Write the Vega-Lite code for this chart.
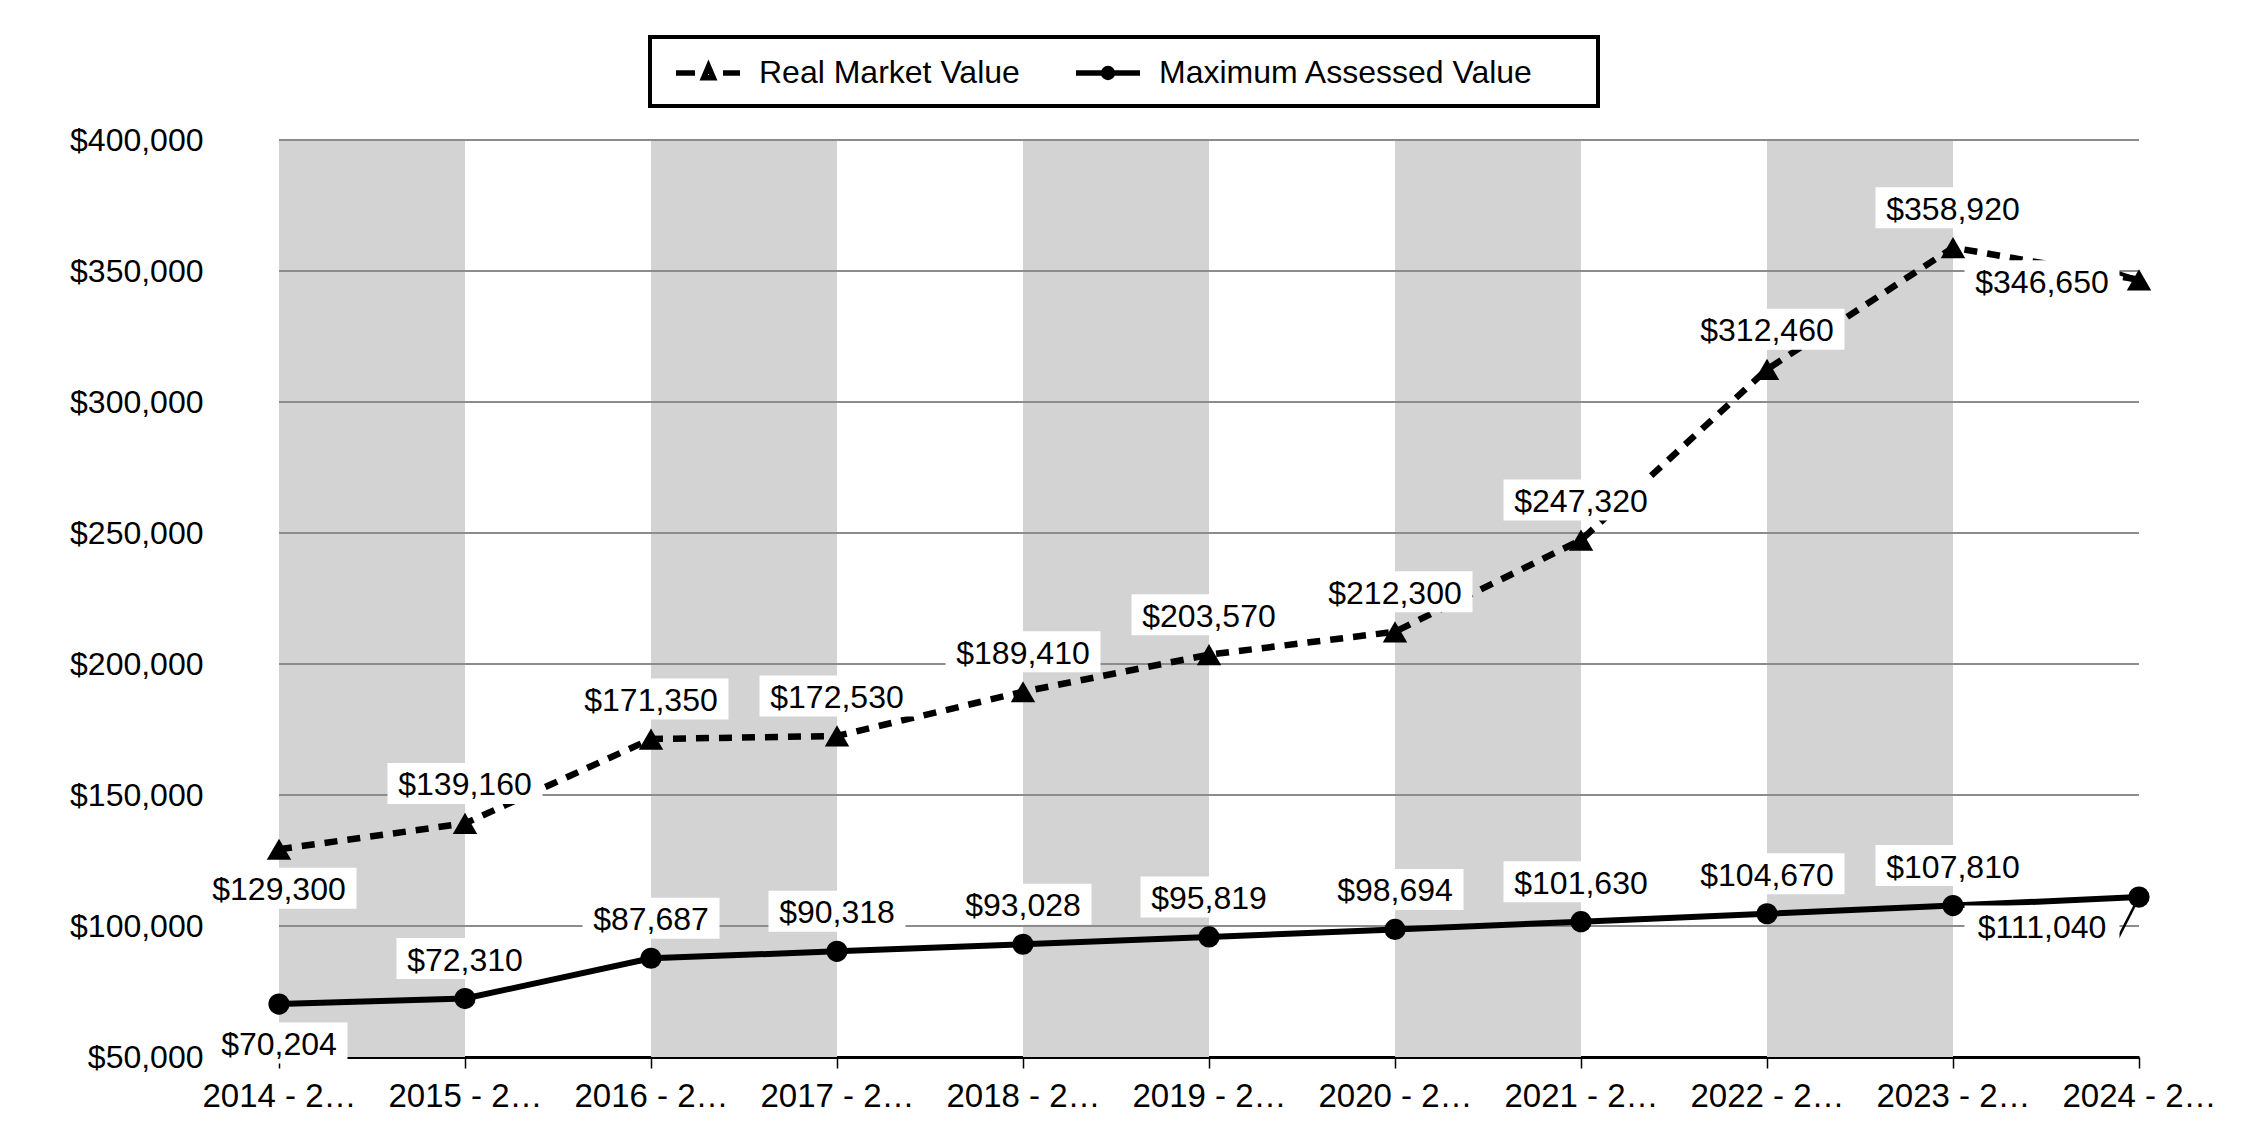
{
  "$schema": "https://vega.github.io/schema/vega-lite/v6.json",
  "width": 1860,
  "height": 917,
  "autosize": {"type": "none"},
  "padding": {"left": 279, "top": 140, "right": 111, "bottom": 83},
  "background": "white",
  "datasets": {
    "values": [
      {"period": "2014 - 2015", "series": "Real Market Value", "value": 129300},
      {"period": "2015 - 2016", "series": "Real Market Value", "value": 139160},
      {"period": "2016 - 2017", "series": "Real Market Value", "value": 171350},
      {"period": "2017 - 2018", "series": "Real Market Value", "value": 172530},
      {"period": "2018 - 2019", "series": "Real Market Value", "value": 189410},
      {"period": "2019 - 2020", "series": "Real Market Value", "value": 203570},
      {"period": "2020 - 2021", "series": "Real Market Value", "value": 212300},
      {"period": "2021 - 2022", "series": "Real Market Value", "value": 247320},
      {"period": "2022 - 2023", "series": "Real Market Value", "value": 312460},
      {"period": "2023 - 2024", "series": "Real Market Value", "value": 358920},
      {"period": "2024 - 2025", "series": "Real Market Value", "value": 346650},
      {"period": "2014 - 2015", "series": "Maximum Assessed Value", "value": 70204},
      {"period": "2015 - 2016", "series": "Maximum Assessed Value", "value": 72310},
      {"period": "2016 - 2017", "series": "Maximum Assessed Value", "value": 87687},
      {"period": "2017 - 2018", "series": "Maximum Assessed Value", "value": 90318},
      {"period": "2018 - 2019", "series": "Maximum Assessed Value", "value": 93028},
      {"period": "2019 - 2020", "series": "Maximum Assessed Value", "value": 95819},
      {"period": "2020 - 2021", "series": "Maximum Assessed Value", "value": 98694},
      {"period": "2021 - 2022", "series": "Maximum Assessed Value", "value": 101630},
      {"period": "2022 - 2023", "series": "Maximum Assessed Value", "value": 104670},
      {"period": "2023 - 2024", "series": "Maximum Assessed Value", "value": 107810},
      {"period": "2024 - 2025", "series": "Maximum Assessed Value", "value": 111040}
    ],
    "bands": [
      {"start": "2014 - 2015", "end": "2015 - 2016"},
      {"start": "2016 - 2017", "end": "2017 - 2018"},
      {"start": "2018 - 2019", "end": "2019 - 2020"},
      {"start": "2020 - 2021", "end": "2021 - 2022"},
      {"start": "2022 - 2023", "end": "2023 - 2024"}
    ],
    "grid": [
      {"v": 100000}, {"v": 150000}, {"v": 200000}, {"v": 250000},
      {"v": 300000}, {"v": 350000}, {"v": 400000}
    ]
  },
  "layer": [
    {
      "data": {"name": "bands"},
      "mark": {"type": "rect", "color": "#d3d3d3"},
      "encoding": {
        "x": {
          "field": "start", "type": "nominal", "title": null,
          "scale": {"type": "point", "padding": 0, "domain": ["2014 - 2015", "2015 - 2016", "2016 - 2017", "2017 - 2018", "2018 - 2019", "2019 - 2020", "2020 - 2021", "2021 - 2022", "2022 - 2023", "2023 - 2024", "2024 - 2025"]}
        },
        "x2": {"field": "end"}
      }
    },
    {
      "data": {"name": "grid"},
      "mark": {"type": "rule", "color": "#8c8c8c", "strokeWidth": 2},
      "encoding": {
        "y": {
          "field": "v", "type": "quantitative", "title": null,
          "scale": {"domain": [50000, 400000], "nice": false},
          "axis": {"values": [50000, 100000, 150000, 200000, 250000, 300000, 350000, 400000], "format": "$,.0f"}
        }
      }
    },
    {
      "data": {"name": "values"},
      "encoding": {
        "x": {
          "field": "period", "type": "nominal", "title": null,
          "scale": {"type": "point", "padding": 0, "domain": ["2014 - 2015", "2015 - 2016", "2016 - 2017", "2017 - 2018", "2018 - 2019", "2019 - 2020", "2020 - 2021", "2021 - 2022", "2022 - 2023", "2023 - 2024", "2024 - 2025"]}
        },
        "y": {
          "field": "value", "type": "quantitative", "title": null,
          "scale": {"domain": [50000, 400000], "nice": false},
          "axis": {"values": [50000, 100000, 150000, 200000, 250000, 300000, 350000, 400000], "format": "$,.0f"}
        }
      },
      "layer": [
        {
          "transform": [{"filter": "datum.series == 'Real Market Value'"}],
          "mark": {"type": "line", "color": "black", "strokeWidth": 6.5, "strokeDash": [13, 10]}
        },
        {
          "transform": [{"filter": "datum.series == 'Maximum Assessed Value'"}],
          "mark": {"type": "line", "color": "black", "strokeWidth": 6}
        },
        {
          "transform": [{"filter": "datum.period == '2024 - 2025' && datum.series == 'Real Market Value'"}],
          "mark": {"type": "rule", "color": "black", "strokeWidth": 4, "xOffset": -21, "yOffset": -7, "x2Offset": 0, "y2Offset": 0},
          "encoding": {"x2": {"field": "period"}, "y2": {"field": "value"}}
        },
        {
          "transform": [{"filter": "datum.period == '2024 - 2025' && datum.series == 'Maximum Assessed Value'"}],
          "mark": {"type": "rule", "color": "black", "strokeWidth": 2.5, "xOffset": -22, "yOffset": 43, "x2Offset": 0, "y2Offset": 0},
          "encoding": {"x2": {"field": "period"}, "y2": {"field": "value"}}
        },
        {
          "mark": {"type": "point", "filled": true, "opacity": 1, "color": "black", "strokeWidth": 0},
          "encoding": {
            "shape": {"condition": {"test": "datum.series == 'Real Market Value'", "value": "triangle-up"}, "value": "circle"},
            "size": {"condition": {"test": "datum.series == 'Real Market Value'", "value": 600}, "value": 450}
          }
        },
        {
          "mark": {"type": "point", "filled": false, "opacity": 0, "color": "black"},
          "encoding": {
            "shape": {
              "field": "series", "type": "nominal",
              "scale": {
                "domain": ["Real Market Value", "Maximum Assessed Value"],
                "range": [
                  "M-0.625,0H0.5625M2.3125,0H3.375M1.406,-0.4L1.706,0.3L1.106,0.3Z",
                  "M-0.625,0H3.375M1.655,0A0.28,0.28,0,1,1,1.095,0A0.28,0.28,0,1,1,1.655,0ZM30.2,0L30.2,0"
                ]
              },
              "legend": {
                "orient": "none", "legendX": 371, "legendY": -103,
                "direction": "horizontal", "columns": 2,
                "title": null,
                "padding": 17,
                "symbolSize": 1024, "symbolOpacity": 1,
                "symbolStrokeColor": "black", "symbolStrokeWidth": 5.5,
                "labelFont": "Liberation Sans", "labelFontSize": 32, "labelColor": "black",
                "labelOffset": 54, "columnPadding": 45, "labelLimit": 600,
                "strokeColor": "black"
              }
            }
          }
        },
        {
          "transform": [{"filter": "datum.period != '2014 - 2015' && datum.period != '2024 - 2025'"}],
          "mark": {"type": "point", "filled": true, "opacity": 1, "color": "white", "strokeWidth": 0, "size": 40000, "yOffset": -40},
          "encoding": {
            "shape": {"condition": {"test": "datum.value >= 100000", "value": "M-0.775,-0.205H0.775V0.205H-0.775Z"}, "value": "M-0.685,-0.205H0.685V0.205H-0.685Z"}
          }
        },
        {
          "transform": [{"filter": "datum.period == '2014 - 2015'"}],
          "mark": {"type": "point", "filled": true, "opacity": 1, "color": "white", "strokeWidth": 0, "size": 40000, "yOffset": 39},
          "encoding": {
            "shape": {"condition": {"test": "datum.value >= 100000", "value": "M-0.775,-0.205H0.775V0.205H-0.775Z"}, "value": "M-0.685,-0.205H0.685V0.205H-0.685Z"}
          }
        },
        {
          "transform": [{"filter": "datum.period == '2024 - 2025' && datum.series == 'Real Market Value'"}],
          "mark": {"type": "point", "filled": true, "opacity": 1, "color": "white", "strokeWidth": 0, "size": 40000, "xOffset": -97, "yOffset": 1, "shape": "M-0.775,-0.205H0.775V0.205H-0.775Z"}
        },
        {
          "transform": [{"filter": "datum.period == '2024 - 2025' && datum.series == 'Maximum Assessed Value'"}],
          "mark": {"type": "point", "filled": true, "opacity": 1, "color": "white", "strokeWidth": 0, "size": 40000, "xOffset": -97, "yOffset": 29, "shape": "M-0.775,-0.205H0.775V0.205H-0.775Z"}
        },
        {
          "transform": [{"filter": "datum.period != '2014 - 2015' && datum.period != '2024 - 2025'"}],
          "mark": {"type": "text", "font": "Liberation Sans", "fontSize": 32, "color": "black", "align": "center", "baseline": "middle", "dy": -38},
          "encoding": {"text": {"field": "value", "type": "quantitative", "format": "$,.0f"}}
        },
        {
          "transform": [{"filter": "datum.period == '2014 - 2015'"}],
          "mark": {"type": "text", "font": "Liberation Sans", "fontSize": 32, "color": "black", "align": "center", "baseline": "middle", "dy": 41},
          "encoding": {"text": {"field": "value", "type": "quantitative", "format": "$,.0f"}}
        },
        {
          "transform": [{"filter": "datum.period == '2024 - 2025' && datum.series == 'Real Market Value'"}],
          "mark": {"type": "text", "font": "Liberation Sans", "fontSize": 32, "color": "black", "align": "center", "baseline": "middle", "dx": -97, "dy": 3},
          "encoding": {"text": {"field": "value", "type": "quantitative", "format": "$,.0f"}}
        },
        {
          "transform": [{"filter": "datum.period == '2024 - 2025' && datum.series == 'Maximum Assessed Value'"}],
          "mark": {"type": "text", "font": "Liberation Sans", "fontSize": 32, "color": "black", "align": "center", "baseline": "middle", "dx": -97, "dy": 31},
          "encoding": {"text": {"field": "value", "type": "quantitative", "format": "$,.0f"}}
        }
      ]
    }
  ],
  "config": {
    "view": {"stroke": null},
    "font": "Liberation Sans",
    "legend": {"strokeWidth": 4},
    "axisY": {
      "grid": false, "domain": false, "ticks": false, "tickSize": 0,
      "labelPadding": 76, "labelFont": "Liberation Sans", "labelFontSize": 32, "labelColor": "black"
    },
    "axisX": {
      "grid": false, "domainColor": "black", "domainWidth": 3,
      "tickColor": "black", "tickWidth": 1.5, "tickSize": 11,
      "labelPadding": 12, "labelAngle": 0, "labelFont": "Liberation Sans", "labelFontSize": 33, "labelColor": "black",
      "labelExpr": "slice(datum.label, 0, 8) + '…'", "zindex": 1
    }
  }
}
